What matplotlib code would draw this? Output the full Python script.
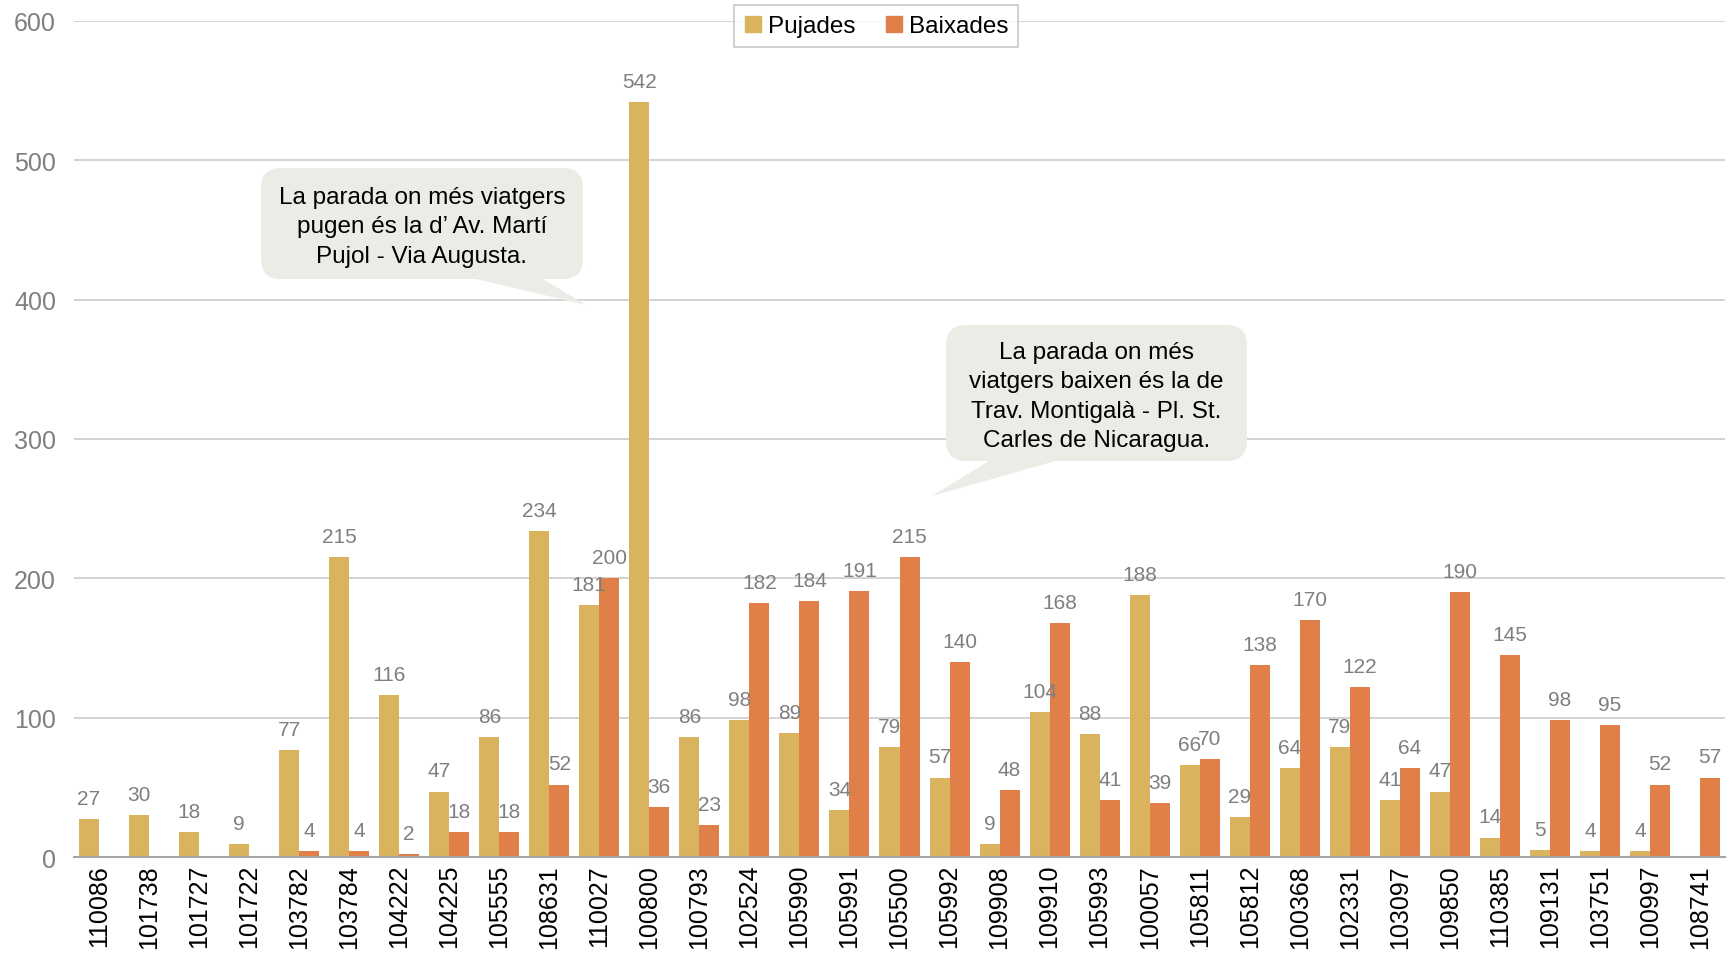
import numpy as np
import matplotlib
matplotlib.use("Agg")
import matplotlib.pyplot as plt
from matplotlib.patches import FancyBboxPatch, Polygon
from matplotlib.lines import Line2D

plt.rcParams['font.family'] = ['Liberation Sans', 'DejaVu Sans']

# -------------------------------
# DATA
# -------------------------------
stops = ["110086", "101738", "101727", "101722", "103782", "103784", "104222",
         "104225", "105555", "108631", "110027", "100800", "100793", "102524",
         "105990", "105991", "105500", "105992", "109908", "109910", "105993",
         "100057", "105811", "105812", "100368", "102331", "103097", "109850",
         "110385", "109131", "103751", "100997", "108741"]
pujades = [27, 30, 18, 9, 77, 215, 116, 47, 86, 234, 181, 542, 86, 98, 89, 34,
           79, 57, 9, 104, 88, 188, 66, 29, 64, 79, 41, 47, 14, 5, 4, 4, 0]
baixades = [0, 0, 0, 0, 4, 4, 2, 18, 18, 52, 200, 36, 23, 182, 184, 191, 215,
            140, 48, 168, 41, 39, 70, 138, 170, 122, 64, 190, 145, 98, 95, 52, 57]
y_ticks = [0, 100, 200, 300, 400, 500, 600]

note_pujades = "La parada on més viatgers\npugen és la d’ Av. Martí\nPujol - Via Augusta."
note_baixades = "La parada on més\nviatgers baixen és la de\nTrav. Montigalà - Pl. St.\nCarles de Nicaragua."

col_puj = "#D9B35E"
col_bai = "#E07F48"
grey_txt = "#7F7F7F"
callout_bg = "#ECECE6"

# -------------------------------
# PLOT
# -------------------------------
fig = plt.figure(figsize=(17.34, 9.54), dpi=100)
ax = fig.add_axes([74 / 1734, 0.1006, (1725 - 74) / 1734, 0.977 - 0.1006])

x = np.arange(len(stops))
w = 0.4
b1 = ax.bar(x - w / 2, pujades, w, color=col_puj, zorder=3)
b2 = ax.bar(x + w / 2, baixades, w, color=col_bai, zorder=3)

for bars, vals in ((b1, pujades), (b2, baixades)):
    labels = [str(v) if v > 0 else "" for v in vals]
    ax.bar_label(bars, labels=labels, padding=8, color=grey_txt, fontsize=15)

ax.set_xlim(-0.5, len(stops) - 0.5)
ax.set_ylim(0, 600)
ax.set_yticks(y_ticks)
ax.set_xticks(x)
ax.set_xticklabels(stops, rotation=90, fontsize=18, color="black")
ax.tick_params(axis="y", length=0, pad=13, labelsize=18, labelcolor=grey_txt)
ax.tick_params(axis="x", length=0, pad=5)
ax.grid(axis="y", color="#D0D0D0", linewidth=1.3, zorder=0)
for s in ("top", "right", "left"):
    ax.spines[s].set_visible(False)
ax.spines["bottom"].set_color("#A6A6A6")
ax.spines["bottom"].set_linewidth(1.5)
ax.spines["bottom"].set_zorder(4)

# -------------------------------
# CALLOUTS (figure inches)
# -------------------------------
def callout(box, tip, base, text):
    x0, y0, x1, y1 = box
    tr = fig.dpi_scale_trans
    fig.patches.append(Polygon([(base[0], y0 + 0.05), (base[1], y0 + 0.05), tip],
                               closed=True, facecolor=callout_bg, edgecolor="none",
                               transform=tr, zorder=5))
    fig.patches.append(FancyBboxPatch((x0 + 0.2, y0 + 0.2), x1 - x0 - 0.4, y1 - y0 - 0.4,
                                      boxstyle="round,pad=0.2", facecolor=callout_bg,
                                      edgecolor="none", transform=tr, zorder=5))
    fig.text((x0 + x1) / 2, (y0 + y1) / 2 - 0.03, text, transform=tr, ha="center",
             va="center", fontsize=17.5, linespacing=1.45, color="black", zorder=6)

callout((2.61, 6.74, 5.83, 7.85), (5.86, 6.48), (4.55, 5.35), note_pujades)
callout((9.46, 4.92, 12.47, 6.28), (9.32, 4.57), (9.97, 10.73), note_baixades)

# -------------------------------
# LEGEND
# -------------------------------
handles = [Line2D([], [], marker="s", linestyle="none", markersize=11,
                  markerfacecolor=c, markeredgecolor=c) for c in (col_puj, col_bai)]
leg = fig.legend(handles, ["Pujades", "Baixades"], loc="upper center",
                 bbox_to_anchor=(0.505, 1.006), ncol=2, fontsize=17.5,
                 frameon=True, fancybox=False, edgecolor="#BFBFBF",
                 handlelength=0.8, handletextpad=0.2, columnspacing=1.2,
                 borderpad=0.4)
leg.get_frame().set_linewidth(1.3)

fig.savefig("out.png", dpi=100)
